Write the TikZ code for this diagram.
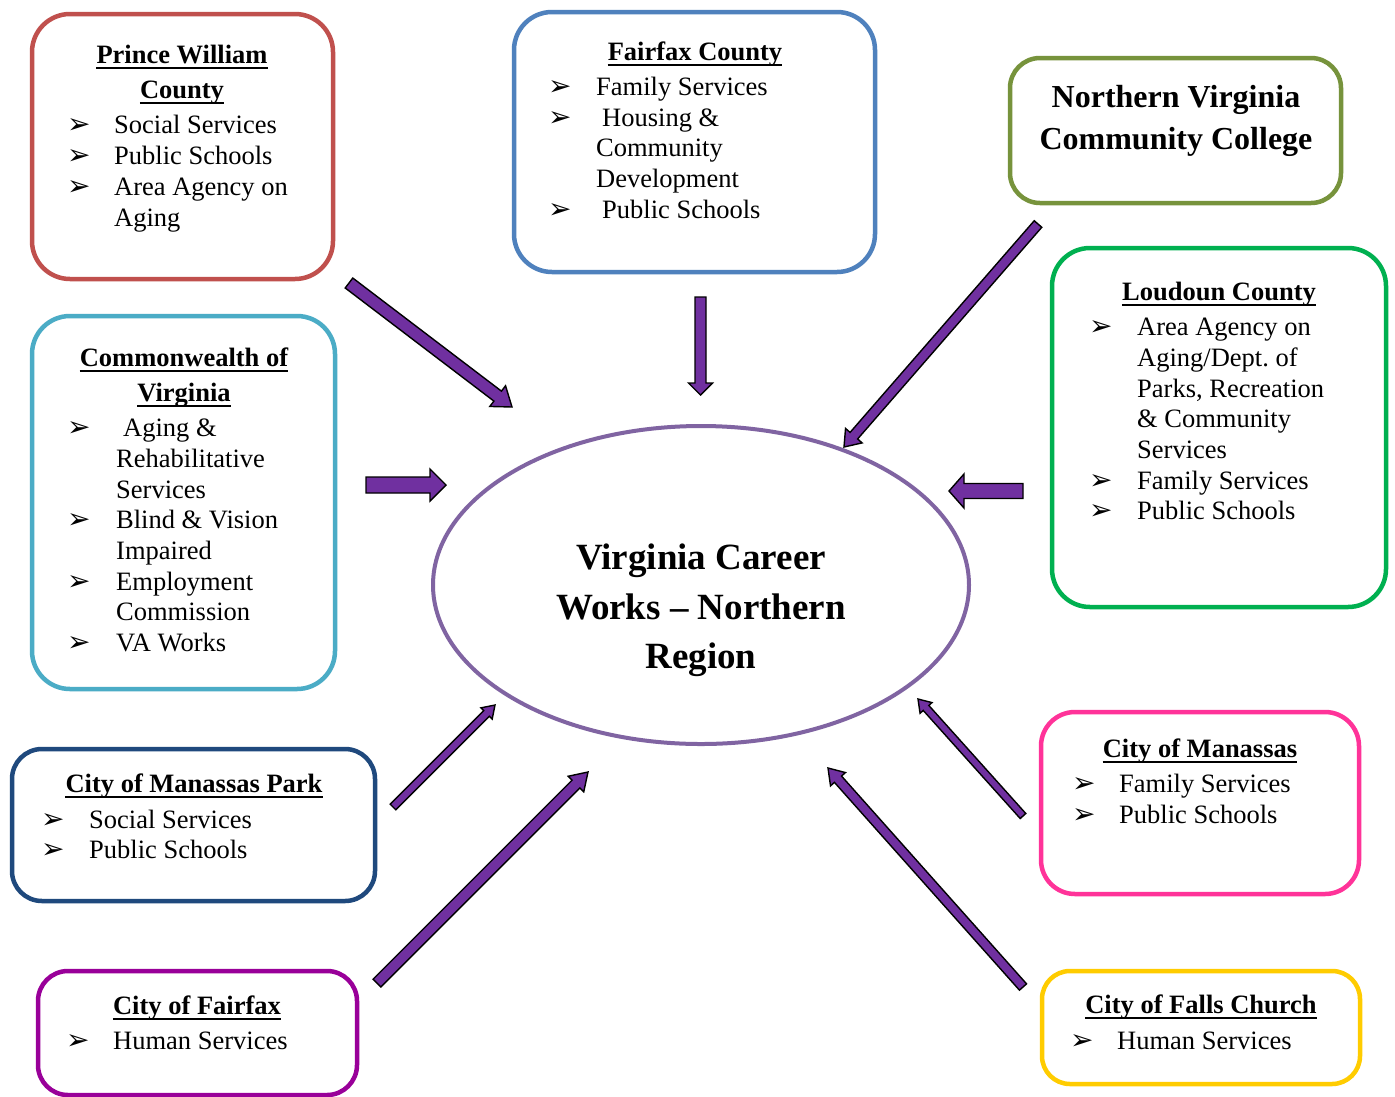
\documentclass[tikz,border=0pt]{standalone}
\usepackage{fontspec}
\setmainfont{Liberation Serif}
\newfontfamily\dejavu{DejaVu Sans}
\usetikzlibrary{calc,shapes.geometric}
\frenchspacing
\definecolor{pwred}{HTML}{C0504D}
\definecolor{ffblue}{HTML}{4F81BD}
\definecolor{nvolive}{HTML}{77933C}
\definecolor{ldgreen}{HTML}{00B050}
\definecolor{cwteal}{HTML}{4BACC6}
\definecolor{mpnavy}{HTML}{1F497D}
\definecolor{cfpurple}{HTML}{990099}
\definecolor{mspink}{HTML}{FF3399}
\definecolor{fcgold}{HTML}{FFCC00}
\definecolor{ellcol}{HTML}{8064A2}
\definecolor{arrpurple}{HTML}{7030A0}
\tikzset{
 box/.style={draw=#1, line width=4.5pt, rounded corners=38pt, inner sep=0pt, outer sep=0pt},
 txt/.style={anchor=base west, inner sep=0pt, font=\fontsize{26.5}{31}\selectfont},
 hd/.style={anchor=base, inner sep=0pt, font=\fontsize{26.5}{31}\selectfont\bfseries},
 bigt/.style={anchor=base, inner sep=0pt, font=\fontsize{32}{42}\selectfont\bfseries},
 ctrt/.style={anchor=base, inner sep=0pt, font=\fontsize{37}{50}\selectfont\bfseries},
 bul/.style={anchor=base west, inner sep=0pt, font=\dejavu\fontsize{28}{28}\selectfont},
 ulin/.style={line width=2.2pt},
 barr/.style={draw=black, line width=1.4pt, fill=arrpurple, line join=miter},
}
\newcommand\hdl[3]{\node[hd] (#1) at (#2) {#3};
  \draw[ulin] ([yshift=-5pt]#1.base west) -- ([yshift=-5pt]#1.base east);}
\newcommand\bitem[3]{\node[bul] (#1) at (#2) {➢};}
\newcommand\barrow[6]{%
  \coordinate (#1t) at (#2); \coordinate (#1h) at (#3);
  \coordinate (#1b) at ($(#1h)!#6!(#1t)$);
  \draw[barr] ($(#1t)!#4!90:(#1h)$) -- ($(#1b)!#4!90:(#1h)$) -- ($(#1b)!#5!90:(#1h)$)
    -- (#1h) -- ($(#1b)!#5!-90:(#1h)$) -- ($(#1b)!#4!-90:(#1h)$) -- ($(#1t)!#4!-90:(#1h)$) -- cycle;}
\begin{document}
\begin{tikzpicture}[x=1pt,y=-1pt]
\useasboundingbox[fill=white] (0,0) rectangle (1395,1096);

% boxes
\node[box=pwred, minimum width=301pt, minimum height=265pt] (pw) at (182.5,146.5) {};
\node[box=ffblue, minimum width=361pt, minimum height=260pt] (ff) at (694.5,142) {};
\node[box=nvolive, rounded corners=30pt, minimum width=331pt, minimum height=145pt] (nv) at (1175.5,130.5) {};
\node[box=ldgreen, minimum width=334pt, minimum height=359pt] (ld) at (1219,427.5) {};
\node[box=cwteal, minimum width=303pt, minimum height=373pt] (cw) at (183.5,502.5) {};
\node[box=mpnavy, rounded corners=30pt, minimum width=363pt, minimum height=152pt] (mp) at (193.5,825) {};
\node[box=cfpurple, rounded corners=30pt, minimum width=319pt, minimum height=124pt] (cf) at (197.5,1033) {};
\node[box=mspink, rounded corners=34pt, minimum width=318pt, minimum height=182pt] (ms) at (1200,803) {};
\node[box=fcgold, rounded corners=28pt, minimum width=318pt, minimum height=113pt] (fc) at (1201,1027.5) {};

% center ellipse
\node[draw=ellcol, line width=4pt, ellipse, inner sep=0pt, minimum width=536pt, minimum height=318pt] (vcw) at (701,585) {};
\node[ctrt] (vcw1) at (701,569) {Virginia Career};
\node[ctrt] (vcw2) at (701,619) {Works -- Northern};
\node[ctrt] (vcw3) at (701,668) {Region};

% Prince William County
\hdl{pwh1}{182,63}{Prince William}
\hdl{pwh2}{182,98}{County}
\bitem{pwb1}{67,133}{}
\bitem{pwb2}{67,164}{}
\bitem{pwb3}{67,195}{}
\node[txt] (pwt1) at (114,133) {Social Services};
\node[txt] (pwt2) at (114,164) {Public Schools};
\node[txt] (pwt3) at (114,195) {Area Agency on};
\node[txt] (pwt4) at (114,226) {Aging};

% Fairfax County
\hdl{ffh}{695,60}{Fairfax County}
\bitem{ffb1}{548,95}{}
\bitem{ffb2}{548,126}{}
\bitem{ffb3}{548,218}{}
\node[txt] (fft1) at (596,95) {Family Services};
\node[txt] (fft2) at (602,126) {Housing \&};
\node[txt] (fft3) at (596,156) {Community};
\node[txt] (fft4) at (596,187) {Development};
\node[txt] (fft5) at (602,218) {Public Schools};

% NVCC
\node[bigt] (nvt1) at (1176,107) {Northern Virginia};
\node[bigt] (nvt2) at (1176,149) {Community College};

% Loudoun County
\hdl{ldh}{1219,300}{Loudoun County}
\bitem{ldb1}{1089,335}{}
\bitem{ldb2}{1089,489}{}
\bitem{ldb3}{1089,519}{}
\node[txt] (ldt1) at (1137,335) {Area Agency on};
\node[txt] (ldt2) at (1137,366) {Aging/Dept.\ of};
\node[txt] (ldt3) at (1137,397) {Parks, Recreation};
\node[txt] (ldt4) at (1137,427) {\& Community};
\node[txt] (ldt5) at (1137,458) {Services};
\node[txt] (ldt6) at (1137,489) {Family Services};
\node[txt] (ldt7) at (1137,519) {Public Schools};

% Commonwealth of Virginia
\hdl{cwh1}{184,366}{Commonwealth of}
\hdl{cwh2}{184,401}{Virginia}
\bitem{cwb1}{67,436}{}
\bitem{cwb2}{67,528}{}
\bitem{cwb3}{67,590}{}
\bitem{cwb4}{67,651}{}
\node[txt] (cwt1) at (123,436) {Aging \&};
\node[txt] (cwt2) at (116,467) {Rehabilitative};
\node[txt] (cwt3) at (116,498) {Services};
\node[txt] (cwt4) at (116,528) {Blind \& Vision};
\node[txt] (cwt5) at (116,559) {Impaired};
\node[txt] (cwt6) at (116,590) {Employment};
\node[txt] (cwt7) at (116,620) {Commission};
\node[txt] (cwt8) at (116,651) {VA Works};

% City of Manassas Park
\hdl{mph}{194,792}{City of Manassas Park}
\bitem{mpb1}{41,828}{}
\bitem{mpb2}{41,858}{}
\node[txt] (mpt1) at (89,828) {Social Services};
\node[txt] (mpt2) at (89,858) {Public Schools};

% City of Fairfax
\hdl{cfh}{197,1014}{City of Fairfax}
\bitem{cfb1}{66,1049}{}
\node[txt] (cft1) at (113,1049) {Human Services};

% City of Manassas
\hdl{msh}{1200,757}{City of Manassas}
\bitem{msb1}{1072,792}{}
\bitem{msb2}{1072,823}{}
\node[txt] (mst1) at (1119,792) {Family Services};
\node[txt] (mst2) at (1119,823) {Public Schools};

% City of Falls Church
\hdl{fch}{1201,1013}{City of Falls Church}
\bitem{fcb1}{1070,1049}{}
\node[txt] (fct1) at (1117,1049) {Human Services};

% block arrows
\barrow{a1}{349,283}{512,407}{6.25pt}{13pt}{18pt}
\barrow{a2}{700.5,297}{700.5,395}{5.5pt}{12pt}{12pt}
\barrow{a3}{1038,224}{844,447}{5pt}{11pt}{15pt}
\barrow{a4}{366,485}{446,485}{8pt}{16pt}{16pt}
\barrow{a5}{1023,491}{949,491}{7.5pt}{17pt}{15pt}
\barrow{a6}{393,807}{495,705}{4pt}{8pt}{12pt}
\barrow{a7}{377,983}{588,772}{5.5pt}{11pt}{17pt}
\barrow{a8}{1023,816}{918,699}{3.75pt}{8pt}{12pt}
\barrow{a9}{1023,987}{828,768}{4.75pt}{10pt}{15pt}
\end{tikzpicture}
\end{document}
